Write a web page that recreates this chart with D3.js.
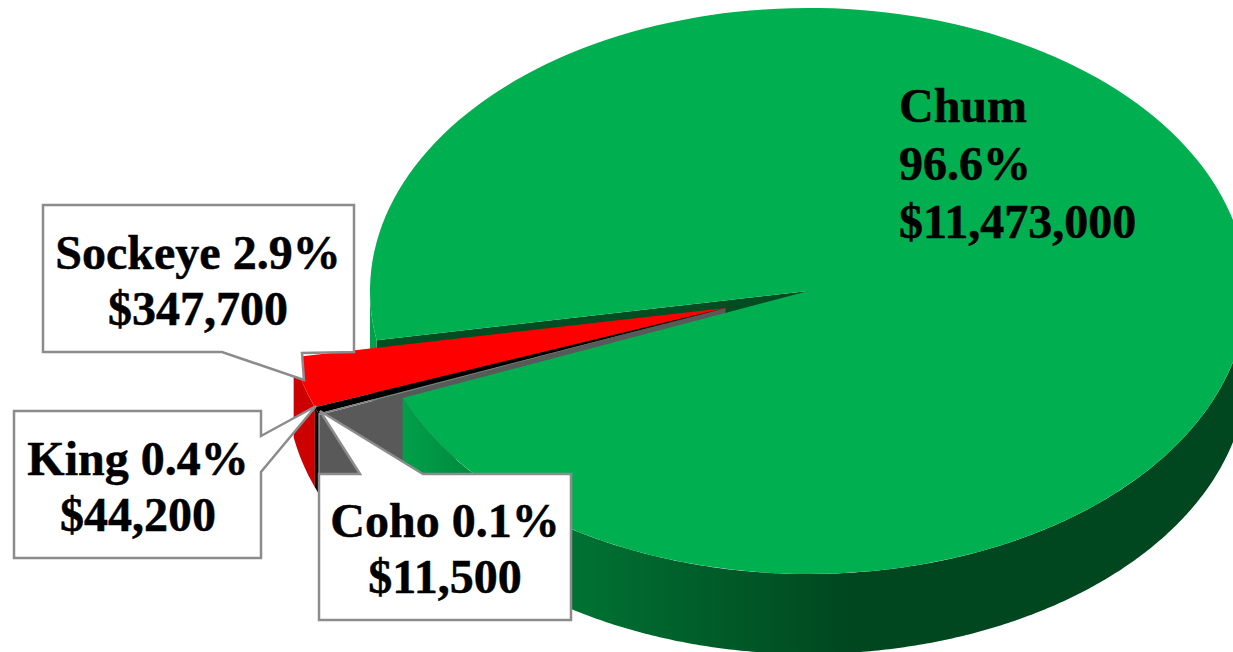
<!DOCTYPE html>
<html>
<head>
<meta charset="utf-8">
<script src="https://d3js.org/d3.v7.min.js"></script>
<style>
html, body { margin: 0; padding: 0; background: #fff; overflow: hidden; }
svg { display: block; }
text { font-family: "Liberation Serif", serif; font-weight: bold; fill: #000; stroke: #000; stroke-width: 0.5; }
</style>
</head>
<body>
<svg id="chart" width="1233" height="652"></svg>
<script>
// harvest value by species, in the clockwise order of the pie
const species = ['Chum', 'Coho', 'King', 'Sockeye'];
const harvest = [11473000, 11500, 44200, 347700];
const shares = ['96.6%', '0.1%', '0.4%', '2.9%'];

const topColors = ['#00b050', '#7f7f7f', '#000000', '#ff0000'];
const wallColors = ['#004d22', '#595959', '#000000', '#cc0000'];

let config = {
    cx: 808.5,
    cy: 291,
    rx: 438.5,
    ry: 283,
    depth: 80,
    start: 260,                // degrees clockwise from 12 o'clock, where Chum begins
    explode: { x: -83, y: 17 },
    font: 48,
    lineHeight: 56,
    chumLineHeight: 58,
}

const svg = d3.select('#chart');
const rad = d => d * Math.PI / 180;

const slices = d3.pie().sort(null)
    .startAngle(rad(config.start))
    .endAngle(rad(config.start + 360))(harvest);

// flat pie on a unit of rx, squashed to the ellipse by the group transform
const arc = d3.arc().innerRadius(0).outerRadius(config.rx);

const px = a => config.rx * Math.sin(a);
const py = a => -config.ry * Math.cos(a);

// outer wall between two angles, traced along the top rim and back along the bottom one
function wallPath(a0, a1) {
    let n = Math.max(2, Math.ceil(Math.abs(a1 - a0) / rad(0.5)));
    let angles = d3.range(n + 1).map(i => a0 + (a1 - a0) * i / n);
    let rim = angles.map(a => [px(a), py(a)]);
    let low = angles.slice().reverse().map(a => [px(a), py(a) + config.depth]);
    return d3.line()(rim.concat(low)) + 'Z';
}

// cut face running from the pie centre out to the rim at angle a
function facePath(a) {
    return d3.line()([[0, 0], [px(a), py(a)], [px(a), py(a) + config.depth], [0, config.depth]]) + 'Z';
}

// gradient runs in the pie's own coordinates
const defs = svg.append('defs');
const grad = defs.append('linearGradient')
    .attr('id', 'chumWall')
    .attr('gradientUnits', 'userSpaceOnUse')
    .attr('x1', -405).attr('x2', 50).attr('y1', 0).attr('y2', 0);
grad.append('stop').attr('offset', 0).attr('stop-color', '#00a04a');
grad.append('stop').attr('offset', 0.25).attr('stop-color', '#007a36');
grad.append('stop').attr('offset', 1).attr('stop-color', '#00461f');

const chum = slices[0];
const chumEnd = chum.endAngle - 2 * Math.PI;   // same rim point, below the left side

const back = svg.append('g').attr('transform', `translate(${config.cx},${config.cy})`);
const out = svg.append('g').attr('transform', `translate(${config.cx + config.explode.x},${config.cy + config.explode.y})`);
const front = svg.append('g').attr('transform', `translate(${config.cx},${config.cy})`);

// back of the gap: the upper cut face of Chum and its short left wall
back.append('path').attr('d', facePath(chum.startAngle)).attr('fill', wallColors[0]);
back.append('path').attr('d', wallPath(rad(270), chum.startAngle)).attr('fill', '#00a04a');

// pulled out slices, walls first
out.append('path').attr('d', wallPath(slices[3].startAngle, slices[3].endAngle)).attr('fill', wallColors[3]);
out.append('path').attr('d', wallPath(slices[2].startAngle, slices[2].endAngle)).attr('fill', wallColors[2]);
out.append('path').attr('d', facePath(slices[1].startAngle)).attr('fill', wallColors[1]);
out.append('path').attr('d', wallPath(slices[1].startAngle, slices[1].endAngle)).attr('fill', wallColors[1]);

[3, 2, 1].forEach(i => {
    out.append('path')
        .attr('transform', `scale(1,${config.ry / config.rx})`)
        .attr('d', arc(slices[i]))
        .attr('fill', topColors[i]);
});

// Chum sits in front of the gap
front.append('path').attr('d', wallPath(rad(90), chumEnd)).attr('fill', 'url(#chumWall)');
front.append('path')
    .attr('transform', `scale(1,${config.ry / config.rx})`)
    .attr('d', arc(chum))
    .attr('fill', topColors[0]);

// callouts, box then pointer going round
const callouts = [
    { i: 3, tx: 198, ty: 269,
      shape: [[43, 205], [354, 205], [354, 352], [302, 353], [304, 380], [222, 352], [43, 352]] },
    { i: 2, tx: 138, ty: 475,
      shape: [[14, 411], [261, 411], [261, 436], [316, 406], [261, 472], [261, 558], [14, 558]] },
    { i: 1, tx: 445, ty: 537,
      shape: [[319, 474], [360, 474], [320, 411], [423, 474], [571, 474], [571, 620], [319, 620]] },
];

const money = d3.format('$,');

callouts.forEach(c => {
    svg.append('path')
        .attr('d', d3.line()(c.shape) + 'Z')
        .attr('fill', '#fff')
        .attr('stroke', '#8c8c8c')
        .attr('stroke-width', 2.5);
    let t = svg.append('text')
        .attr('text-anchor', 'middle')
        .attr('font-size', config.font);
    t.append('tspan').attr('x', c.tx).attr('y', c.ty)
        .text(species[c.i] + ' ' + shares[c.i]);
    t.append('tspan').attr('x', c.tx).attr('y', c.ty + config.lineHeight)
        .text(money(harvest[c.i]));
});

// Chum label has no box
const chumLabel = svg.append('text').attr('font-size', config.font);
[species[0], shares[0], money(harvest[0])].forEach((s, i) => {
    chumLabel.append('tspan').attr('x', 899).attr('y', 122 + i * config.chumLineHeight).text(s);
});
</script>
</body>
</html>
